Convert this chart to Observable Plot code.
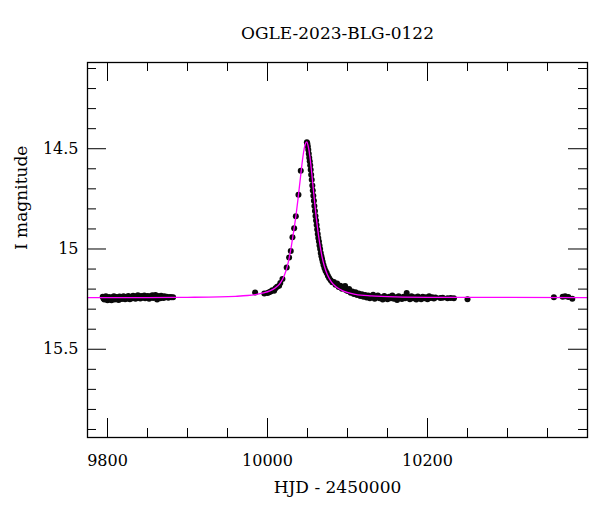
<!DOCTYPE html>
<html><head><meta charset="utf-8">
<script src="https://cdn.jsdelivr.net/npm/d3@7"></script>
<script src="https://cdn.jsdelivr.net/npm/@observablehq/plot@0.6"></script>
<style>body{margin:0;background:#fff}</style>
</head><body><div id="chart"></div>
<script>
const titleText = "OGLE-2023-BLG-0122";
const xLabel = "HJD - 2450000";
const yLabel = "I magnitude";

const obsHJD = [
 9794,9795,9796,9797,9798,9799,9800,9801,9802,9803,9804,9805,9806,9807,9808,9809,9810,9811,9812,9813,
 9814,9815,9816,9817,9818,9820,9821,9822,9823,9825,9826,9827,9828,9830,9831,9832,9833,9835,9836,9837,
 9838,9840,9841,9842,9843,9845,9846,9847,9848,9850,9851,9852,9853,9855,9856,9857,9858,9860,9861,9862,
 9863,9865,9866,9867,9868,9870,9871,9872,9874,9876,9878,9880,9882,
 9984.5,9996,10000,10002,10004,10006,10008.3,10010,10012,10014.5,10016,10018.7,10024,10027,10029.1,
 10031.2,10033.3,10035.4,10038.7,10041.6,
 10049.2,10049.8,10050.4,10051.0,10051.6,10052.2,10052.8,10053.4,10054.0,10054.6,10055.3,10056.0,10056.6,
 10057.3,10058.0,10058.6,10059.3,10060.0,10060.7,10061.4,10062.1,10062.8,10063.5,10064.3,10065.0,10065.8,
 10066.6,10067.4,10068.2,10069.0,10070.0,10071.2,10072.5,10074.0,10075.5,10077,10079,10081,
 10083,10085,10087,10089,10091,10093,10095,10097,10098,10100,10102,10104,10106,10108,10110,10112,10114,
 10116,10118,10120,10122,10124,10126,10128,10130,10132,10134,10136,10138,10140,10142,10144,10146,10148,
 10150,10152,10154,10156,10158,10160,10162,10164,10166,10168,10170,10172,10174,10176,10178,10180,10182,
 10184,10186,10188,10190,10192,10194,10196,10198,10200,10202,10204,10206,10208,10210,
 10216,10219,10225,10229,10233,10250,
 10358,10369,10372,10376,10381
];
const obsMag = [
 15.238,15.247,15.252,15.243,15.236,15.249,15.255,15.244,15.239,15.251,15.246,15.256,15.241,15.248,15.236,15.252,15.245,15.239,15.250,15.243,
 15.254,15.237,15.246,15.241,15.249,15.236,15.244,15.251,15.239,15.247,15.235,15.243,15.250,15.238,15.245,15.233,15.241,15.248,15.236,15.244,
 15.231,15.240,15.247,15.235,15.243,15.238,15.232,15.245,15.239,15.234,15.242,15.248,15.236,15.240,15.231,15.244,15.237,15.229,15.241,15.252,
 15.235,15.239,15.246,15.233,15.240,15.244,15.236,15.241,15.238,15.243,15.239,15.241,15.240,
 15.217,15.222,15.220,15.216,15.212,15.206,15.208,15.196,15.188,15.183,15.170,15.150,15.092,15.042,15.010,
 14.942,14.897,14.837,14.730,14.610,
 14.468,14.474,14.488,14.505,14.525,14.545,14.563,14.583,14.605,14.630,14.655,14.683,14.708,
 14.735,14.760,14.785,14.810,14.835,14.858,14.880,14.903,14.925,14.945,14.963,14.982,15.000,
 15.020,15.036,15.050,15.064,15.080,15.095,15.108,15.120,15.134,15.145,15.156,15.166,
 15.165,15.178,15.172,15.190,15.183,15.198,15.188,15.185,15.205,15.210,15.200,15.218,15.212,15.224,15.216,15.230,15.222,
 15.235,15.226,15.238,15.230,15.242,15.232,15.245,15.236,15.228,15.248,15.238,15.232,15.246,15.240,15.252,15.235,15.243,
 15.250,15.238,15.245,15.232,15.248,15.240,15.254,15.236,15.244,15.249,15.238,15.246,15.220,15.240,15.251,15.236,15.245,
 15.240,15.252,15.237,15.244,15.250,15.238,15.246,15.241,15.250,15.236,15.244,15.240,15.247,15.242,
 15.244,15.243,15.245,15.244,15.246,15.250,
 15.241,15.238,15.236,15.239,15.248
];

const modelHJD = [9775,9850,9900,9940,9960,9975,9985,9995,10003,10010,10015,10019,10023,10026,10029,10032,10035,10038,10041,10043,10045,10047,10049,10051,10053,10055,10057,10059,10061,10063,10065,10068,10071,10075,10080,10086,10095,10110,10130,10160,10200,10400];
const modelMag = [15.242,15.242,15.241,15.239,15.236,15.232,15.227,15.219,15.209,15.193,15.175,15.150,15.110,15.065,15.005,14.930,14.850,14.755,14.650,14.580,14.520,14.480,14.466,14.490,14.540,14.610,14.690,14.770,14.845,14.910,14.965,15.035,15.085,15.130,15.165,15.190,15.210,15.226,15.234,15.239,15.241,15.242];

const xMajorTicks = [9800, 10000, 10200];
const xMinorTicks = [9850, 9900, 9950, 10050, 10100, 10150, 10250, 10300, 10350];
const yMajorTicks = [14.5, 15, 15.5];
const yMinorTicks = [14.1, 14.2, 14.3, 14.4, 14.6, 14.7, 14.8, 14.9, 15.1, 15.2, 15.3, 15.4, 15.6, 15.7, 15.8, 15.9];

const obs = obsHJD.map((x, i) => ({x, y: obsMag[i]}));
const model = modelHJD.map((x, i) => ({x, y: modelMag[i]}));

const W = 600, H = 512, mL = 87, mR = 13, mT = 62, mB = 75;
const iw = W - mL - mR, ih = H - mT - mB;
const majLen = 19, minLen = 9;
const font = "'DejaVu Serif', serif";

const chart = Plot.plot({
  width: W, height: H,
  marginLeft: mL, marginRight: mR, marginTop: mT, marginBottom: mB,
  style: {fontFamily: font, fontSize: "16px", color: "black", background: "white"},
  x: {domain: [9775, 10400], axis: null},
  y: {domain: [14.07, 15.94], reverse: true, axis: null},
  marks: [
    Plot.dot(obs, {x: "x", y: "y", r: 3, fill: "#0a0a0a", stroke: "none"}),
    Plot.line(model, {x: "x", y: "y", stroke: "#ff00ff", strokeWidth: 1.3, curve: "monotone-x"}),
    // bottom ticks
    Plot.tickX(xMajorTicks, {x: d => d, insetTop: ih - majLen, stroke: "black", strokeWidth: 1}),
    Plot.tickX(xMinorTicks, {x: d => d, insetTop: ih - minLen, stroke: "black", strokeWidth: 1}),
    // top ticks
    Plot.tickX(xMajorTicks, {x: d => d, insetBottom: ih - majLen, stroke: "black", strokeWidth: 1}),
    Plot.tickX(xMinorTicks, {x: d => d, insetBottom: ih - minLen, stroke: "black", strokeWidth: 1}),
    // left ticks
    Plot.tickY(yMajorTicks, {y: d => d, insetRight: iw - majLen, stroke: "black", strokeWidth: 1}),
    Plot.tickY(yMinorTicks, {y: d => d, insetRight: iw - minLen, stroke: "black", strokeWidth: 1}),
    // right ticks
    Plot.tickY(yMajorTicks, {y: d => d, insetLeft: iw - majLen, stroke: "black", strokeWidth: 1}),
    Plot.tickY(yMinorTicks, {y: d => d, insetLeft: iw - minLen, stroke: "black", strokeWidth: 1}),
    Plot.frame({stroke: "black", strokeWidth: 1.3}),
    // tick labels
    Plot.text(xMajorTicks, {x: d => d, text: d => String(d), frameAnchor: "bottom", dy: 23, lineAnchor: "middle", fontSize: 16, fill: "black"}),
    Plot.text(yMajorTicks, {y: d => d, text: d => String(d), frameAnchor: "left", dx: -9, textAnchor: "end", lineAnchor: "middle", fontSize: 16, fill: "black"}),
    // labels
    Plot.text([titleText], {text: d => d, frameAnchor: "top", dy: -29, lineAnchor: "middle", fontSize: 17, fill: "black"}),
    Plot.text([xLabel], {text: d => d, frameAnchor: "bottom", dy: 50, lineAnchor: "middle", fontSize: 17, fill: "black"}),
    Plot.text([yLabel], {text: d => d, frameAnchor: "left", dx: -66, rotate: -90, lineAnchor: "middle", fontSize: 17, fill: "black"})
  ]
});
document.getElementById("chart").appendChild(chart);
</script>
</body></html>
